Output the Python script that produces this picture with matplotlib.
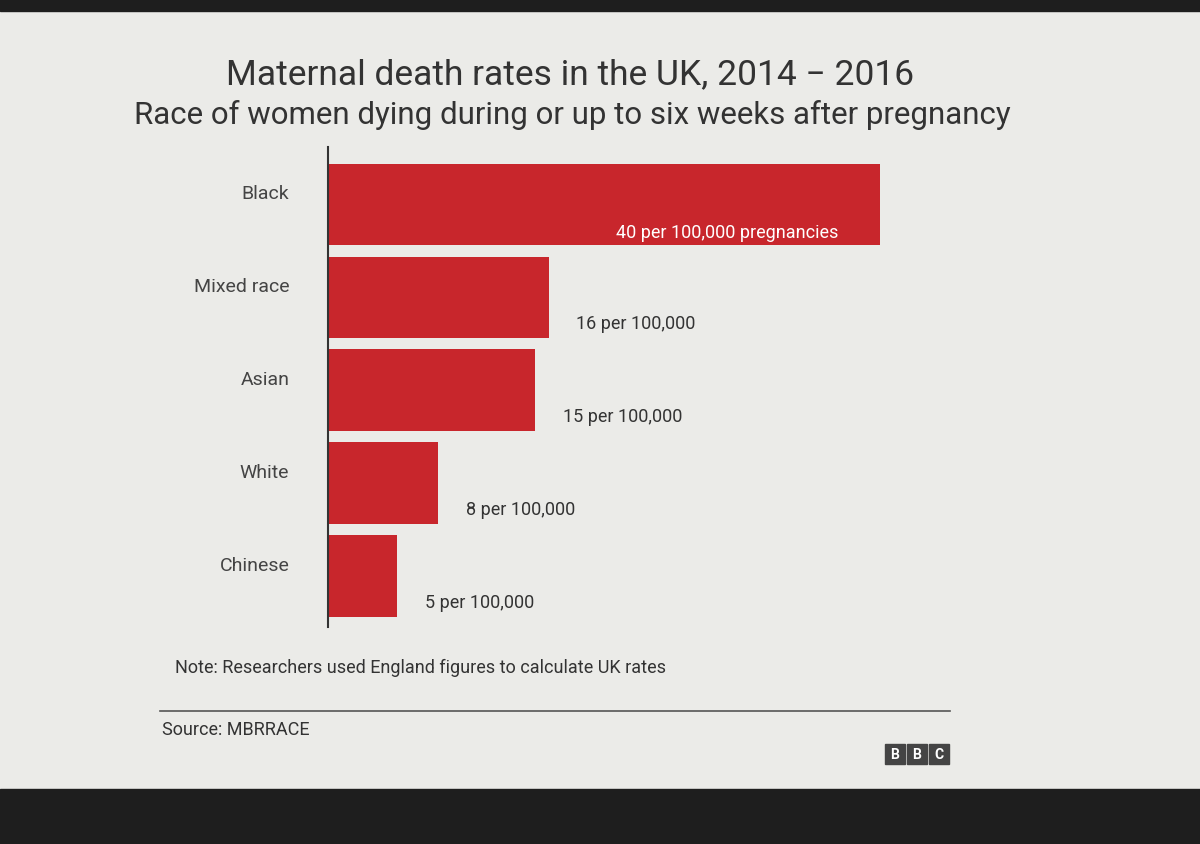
import matplotlib
matplotlib.use("Agg")
import matplotlib.pyplot as plt
from matplotlib.patches import Rectangle

plt.rcParams['font.family'] = ['Roboto', 'DejaVu Sans']

categories = ["Black", "Mixed race", "Asian", "White", "Chinese"]
values = [40, 16, 15, 8, 5]
value_labels = ["40 per 100,000 pregnancies", "16 per 100,000", "15 per 100,000",
                "8 per 100,000", "5 per 100,000"]

W, H = 1200, 845
fig = plt.figure(figsize=(12, 8.45), dpi=100)
fig.patch.set_facecolor("#ebebe8")
fig.add_artist(Rectangle((0, 0), 1, 55/H, transform=fig.transFigure, color="#1e1e1e", zorder=0))
fig.add_artist(Rectangle((0, 1-12/H), 1, 12/H, transform=fig.transFigure, color="#1e1e1e", zorder=0))

ax = fig.add_axes([328/W, 1-628/H, 690/W, 480/H])
ax.set_facecolor("none")
y = list(range(len(categories)))
ax.barh(y, values, height=0.88, color="#c8262c")
ax.set_xlim(0, 50)
ax.set_ylim(len(categories)-0.45, -0.62)
for s in ["top", "right", "bottom"]:
    ax.spines[s].set_visible(False)
ax.spines["left"].set_color("#333333")
ax.spines["left"].set_linewidth(1.5)
ax.set_xticks([])
ax.set_yticks([])
for i, (c, v, lab) in enumerate(zip(categories, values, value_labels)):
    ax.text(-2.8, i-0.12, c, ha="right", va="center", fontsize=14, color="#444444")
    if i == 0:
        ax.text(v-3.0, i+0.3, lab, ha="right", va="center", fontsize=13, color="white")
    else:
        ax.text(v+2.0, i+0.28, lab, ha="left", va="center", fontsize=13, color="#333333")

fig.text(570/W, 1-75/H, "Maternal death rates in the UK, 2014 \u2212 2016", ha="center", va="center",
         fontsize=25.5, color="#333333")
fig.text(572/W, 1-115/H, "Race of women dying during or up to six weeks after pregnancy", ha="center",
         va="center", fontsize=22.5, color="#333333")
fig.text(175/W, 1-668/H, "Note: Researchers used England figures to calculate UK rates",
         fontsize=13, color="#333333", va="center")
fig.add_artist(plt.Line2D([160/W, 950/W], [1-712/H, 1-712/H], color="#555555", lw=1.2))
fig.text(162/W, 1-730/H, "Source: MBRRACE", fontsize=13, color="#333333", va="center")
for k, ch in enumerate("BBC"):
    x0 = (885 + k*22)/W
    fig.add_artist(Rectangle((x0, 1-765/H), 20/W, 20/H, transform=fig.transFigure, color="#444444"))
    fig.text(x0+10/W, 1-755/H, ch, ha="center", va="center", fontsize=10, color="white", weight="bold")

fig.savefig("out.png", dpi=100, facecolor=fig.get_facecolor())
